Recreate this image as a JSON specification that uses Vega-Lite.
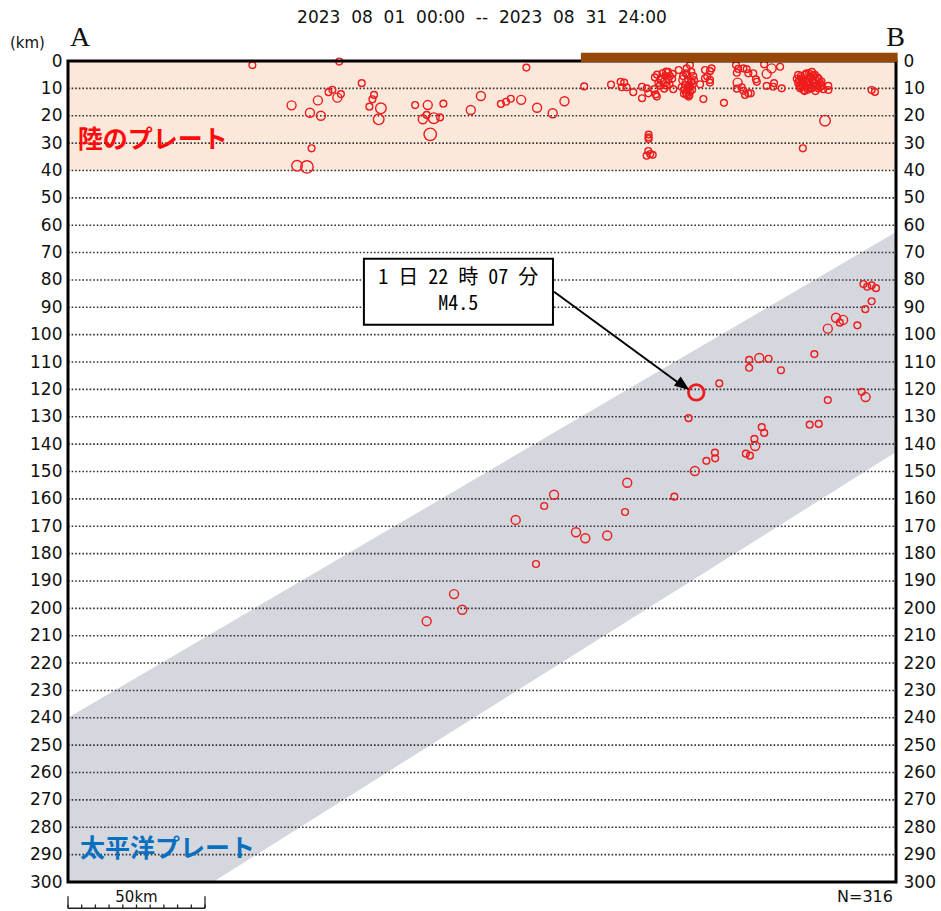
{
  "$schema": "https://vega.github.io/schema/vega-lite/v6.json",
  "width": 828,
  "height": 821,
  "autosize": {"type": "none"},
  "padding": {"left": 68, "top": 61, "right": 45, "bottom": 29},
  "background": "white",
  "config": {"view": {"stroke": null}, "font": "DejaVu Sans"},
  "datasets": {
    "slab": [
      {"km": 0, "top": 240, "bottom": 300},
      {"km": 52.9, "top": 208.9, "bottom": 300},
      {"km": 302.2, "top": 62.5, "bottom": 142.9}
    ],
    "grid": [
      {"d": 10}, {"d": 20}, {"d": 30}, {"d": 40}, {"d": 50}, {"d": 60}, {"d": 70}, {"d": 80}, {"d": 90}, {"d": 100},
      {"d": 110}, {"d": 120}, {"d": 130}, {"d": 140}, {"d": 150}, {"d": 160}, {"d": 170}, {"d": 180}, {"d": 190}, {"d": 200},
      {"d": 210}, {"d": 220}, {"d": 230}, {"d": 240}, {"d": 250}, {"d": 260}, {"d": 270}, {"d": 280}, {"d": 290}
    ],
    "scaleticks": [
      {"t": 0}, {"t": 5}, {"t": 10}, {"t": 15}, {"t": 20}, {"t": 25}, {"t": 30}, {"t": 35}, {"t": 40}, {"t": 45}, {"t": 50}
    ],
    "quakes": [
      {"dist": 67.3, "depth": 1.5, "mag": 1}, {"dist": 99.0, "depth": 0.2, "mag": 1}, {"dist": 81.6, "depth": 16.2, "mag": 1.5},
      {"dist": 88.3, "depth": 18.9, "mag": 1.5}, {"dist": 91.2, "depth": 14.4, "mag": 1.5}, {"dist": 92.3, "depth": 20.0, "mag": 1.5},
      {"dist": 95.1, "depth": 11.4, "mag": 1}, {"dist": 96.5, "depth": 10.5, "mag": 1}, {"dist": 98.3, "depth": 13.4, "mag": 1.5},
      {"dist": 99.6, "depth": 12.1, "mag": 1}, {"dist": 107.2, "depth": 8.1, "mag": 1}, {"dist": 110.0, "depth": 16.7, "mag": 1},
      {"dist": 111.1, "depth": 14.0, "mag": 1}, {"dist": 111.7, "depth": 12.4, "mag": 1}, {"dist": 114.2, "depth": 17.3, "mag": 2},
      {"dist": 113.4, "depth": 21.3, "mag": 2}, {"dist": 88.9, "depth": 31.9, "mag": 1}, {"dist": 83.6, "depth": 38.3, "mag": 2},
      {"dist": 87.2, "depth": 38.7, "mag": 2.5}, {"dist": 126.7, "depth": 16.1, "mag": 1}, {"dist": 130.9, "depth": 19.7, "mag": 1},
      {"dist": 129.5, "depth": 21.3, "mag": 1.5}, {"dist": 133.5, "depth": 20.9, "mag": 2}, {"dist": 135.8, "depth": 20.6, "mag": 1},
      {"dist": 131.3, "depth": 16.1, "mag": 1.5}, {"dist": 137.0, "depth": 15.6, "mag": 1}, {"dist": 132.2, "depth": 26.8, "mag": 2.5},
      {"dist": 147.0, "depth": 17.9, "mag": 1.5}, {"dist": 150.7, "depth": 12.8, "mag": 1.5}, {"dist": 158.0, "depth": 15.7, "mag": 1},
      {"dist": 159.9, "depth": 14.9, "mag": 1}, {"dist": 161.6, "depth": 13.8, "mag": 1}, {"dist": 165.4, "depth": 14.2, "mag": 1.5},
      {"dist": 167.3, "depth": 2.4, "mag": 1}, {"dist": 171.2, "depth": 17.1, "mag": 1.5}, {"dist": 176.9, "depth": 19.1, "mag": 1.5},
      {"dist": 181.2, "depth": 14.7, "mag": 1.5}, {"dist": 188.4, "depth": 9.3, "mag": 1}, {"dist": 198.2, "depth": 8.6, "mag": 1},
      {"dist": 201.7, "depth": 7.6, "mag": 1}, {"dist": 203.0, "depth": 7.9, "mag": 1}, {"dist": 203.9, "depth": 9.6, "mag": 1},
      {"dist": 202.1, "depth": 9.6, "mag": 1}, {"dist": 206.3, "depth": 11.4, "mag": 1}, {"dist": 209.5, "depth": 9.4, "mag": 1},
      {"dist": 209.5, "depth": 13.6, "mag": 1}, {"dist": 211.2, "depth": 10.0, "mag": 1}, {"dist": 211.8, "depth": 11.8, "mag": 1},
      {"dist": 214.0, "depth": 10.3, "mag": 1}, {"dist": 214.5, "depth": 12.2, "mag": 1}, {"dist": 214.9, "depth": 13.0, "mag": 1},
      {"dist": 211.9, "depth": 26.9, "mag": 1}, {"dist": 211.9, "depth": 27.9, "mag": 1}, {"dist": 211.9, "depth": 28.5, "mag": 1},
      {"dist": 211.8, "depth": 32.9, "mag": 1}, {"dist": 212.5, "depth": 34.0, "mag": 1}, {"dist": 213.4, "depth": 34.3, "mag": 1},
      {"dist": 211.2, "depth": 34.6, "mag": 1},
      {"dist": 214.2, "depth": 6.0, "mag": 1}, {"dist": 216.3, "depth": 6.5, "mag": 1}, {"dist": 217.9, "depth": 7.6, "mag": 1.5},
      {"dist": 219.1, "depth": 6.9, "mag": 1}, {"dist": 219.7, "depth": 5.5, "mag": 1}, {"dist": 218.3, "depth": 3.9, "mag": 1},
      {"dist": 216.7, "depth": 6.9, "mag": 1.5}, {"dist": 217.6, "depth": 10.1, "mag": 1}, {"dist": 220.9, "depth": 10.3, "mag": 1},
      {"dist": 220.7, "depth": 4.7, "mag": 1}, {"dist": 222.9, "depth": 3.3, "mag": 1}, {"dist": 225.8, "depth": 2.7, "mag": 1},
      {"dist": 227.0, "depth": 1.5, "mag": 1}, {"dist": 224.6, "depth": 6.9, "mag": 1.5}, {"dist": 225.8, "depth": 8.1, "mag": 1.5},
      {"dist": 226.4, "depth": 10.0, "mag": 1}, {"dist": 227.0, "depth": 11.2, "mag": 1}, {"dist": 225.6, "depth": 11.8, "mag": 1},
      {"dist": 227.6, "depth": 7.6, "mag": 1}, {"dist": 228.2, "depth": 5.5, "mag": 1}, {"dist": 225.2, "depth": 8.8, "mag": 1},
      {"dist": 226.3, "depth": 6.6, "mag": 1}, {"dist": 226.6, "depth": 9.1, "mag": 1}, {"dist": 225.9, "depth": 12.4, "mag": 1},
      {"dist": 226.0, "depth": 5.0, "mag": 1}, {"dist": 227.0, "depth": 9.5, "mag": 1}, {"dist": 226.5, "depth": 13.0, "mag": 1},
      {"dist": 225.0, "depth": 10.5, "mag": 1}, {"dist": 228.0, "depth": 8.5, "mag": 1}, {"dist": 218.0, "depth": 5.5, "mag": 1},
      {"dist": 215.5, "depth": 8.0, "mag": 1}, {"dist": 219.5, "depth": 8.5, "mag": 1},
      {"dist": 224.5, "depth": 5.5, "mag": 1}, {"dist": 225.5, "depth": 4.5, "mag": 1}, {"dist": 227.5, "depth": 4.0, "mag": 1},
      {"dist": 226.8, "depth": 12.5, "mag": 1}, {"dist": 224.8, "depth": 12.0, "mag": 1}, {"dist": 227.8, "depth": 10.5, "mag": 1},
      {"dist": 228.5, "depth": 7.0, "mag": 1}, {"dist": 224.0, "depth": 9.5, "mag": 1}, {"dist": 215.0, "depth": 5.0, "mag": 1},
      {"dist": 217.0, "depth": 4.5, "mag": 1}, {"dist": 219.0, "depth": 4.0, "mag": 1}, {"dist": 220.5, "depth": 6.5, "mag": 1},
      {"dist": 216.0, "depth": 9.0, "mag": 1}, {"dist": 218.5, "depth": 9.0, "mag": 1},
      {"dist": 230.7, "depth": 8.5, "mag": 1}, {"dist": 231.9, "depth": 13.9, "mag": 1}, {"dist": 232.5, "depth": 3.3, "mag": 1},
      {"dist": 234.3, "depth": 3.7, "mag": 1}, {"dist": 234.9, "depth": 2.7, "mag": 1}, {"dist": 233.3, "depth": 5.7, "mag": 1},
      {"dist": 232.5, "depth": 6.3, "mag": 1}, {"dist": 234.3, "depth": 7.9, "mag": 1}, {"dist": 234.3, "depth": 6.9, "mag": 1},
      {"dist": 239.4, "depth": 15.3, "mag": 1}, {"dist": 243.8, "depth": 1.5, "mag": 1}, {"dist": 244.6, "depth": 2.9, "mag": 1},
      {"dist": 244.1, "depth": 4.3, "mag": 1}, {"dist": 246.5, "depth": 2.7, "mag": 1}, {"dist": 247.7, "depth": 3.0, "mag": 1},
      {"dist": 248.3, "depth": 4.5, "mag": 1}, {"dist": 250.1, "depth": 4.5, "mag": 1}, {"dist": 251.1, "depth": 6.7, "mag": 1},
      {"dist": 251.4, "depth": 7.6, "mag": 1}, {"dist": 255.0, "depth": 4.7, "mag": 1.5}, {"dist": 254.1, "depth": 1.2, "mag": 1},
      {"dist": 256.8, "depth": 2.7, "mag": 1.5}, {"dist": 259.9, "depth": 2.1, "mag": 1}, {"dist": 244.4, "depth": 7.9, "mag": 1.5},
      {"dist": 244.1, "depth": 10.1, "mag": 1}, {"dist": 245.9, "depth": 9.6, "mag": 1}, {"dist": 246.5, "depth": 10.9, "mag": 1},
      {"dist": 247.1, "depth": 12.4, "mag": 1}, {"dist": 248.3, "depth": 11.8, "mag": 1}, {"dist": 249.2, "depth": 11.8, "mag": 1},
      {"dist": 255.0, "depth": 9.1, "mag": 1}, {"dist": 257.7, "depth": 8.1, "mag": 1}, {"dist": 257.4, "depth": 9.4, "mag": 1},
      {"dist": 260.5, "depth": 10.0, "mag": 1}, {"dist": 268.2, "depth": 31.9, "mag": 1},
      {"dist": 266.5, "depth": 5.1, "mag": 1}, {"dist": 267.8, "depth": 6.3, "mag": 1}, {"dist": 269.6, "depth": 4.5, "mag": 1},
      {"dist": 270.8, "depth": 5.7, "mag": 1}, {"dist": 272.0, "depth": 6.9, "mag": 1}, {"dist": 268.4, "depth": 8.1, "mag": 1},
      {"dist": 270.2, "depth": 8.8, "mag": 1}, {"dist": 267.2, "depth": 10.0, "mag": 1}, {"dist": 273.3, "depth": 8.8, "mag": 1},
      {"dist": 271.4, "depth": 10.0, "mag": 1}, {"dist": 269.0, "depth": 6.9, "mag": 1}, {"dist": 274.5, "depth": 8.1, "mag": 1},
      {"dist": 272.6, "depth": 5.1, "mag": 1}, {"dist": 266.5, "depth": 8.1, "mag": 1}, {"dist": 273.8, "depth": 10.0, "mag": 1},
      {"dist": 268.6, "depth": 10.6, "mag": 1}, {"dist": 271.5, "depth": 4.0, "mag": 1}, {"dist": 268.0, "depth": 7.0, "mag": 1},
      {"dist": 270.0, "depth": 7.5, "mag": 1}, {"dist": 272.0, "depth": 8.0, "mag": 1}, {"dist": 269.5, "depth": 9.5, "mag": 1},
      {"dist": 271.0, "depth": 6.0, "mag": 1}, {"dist": 273.0, "depth": 7.0, "mag": 1}, {"dist": 267.0, "depth": 9.0, "mag": 1},
      {"dist": 270.0, "depth": 10.5, "mag": 1}, {"dist": 274.0, "depth": 6.5, "mag": 1}, {"dist": 266.0, "depth": 6.5, "mag": 1},
      {"dist": 267.5, "depth": 5.5, "mag": 1}, {"dist": 269.0, "depth": 5.0, "mag": 1}, {"dist": 270.5, "depth": 4.5, "mag": 1},
      {"dist": 272.0, "depth": 5.5, "mag": 1}, {"dist": 273.5, "depth": 6.0, "mag": 1}, {"dist": 268.0, "depth": 8.8, "mag": 1},
      {"dist": 269.5, "depth": 8.0, "mag": 1}, {"dist": 271.0, "depth": 8.5, "mag": 1}, {"dist": 272.5, "depth": 9.5, "mag": 1},
      {"dist": 274.5, "depth": 9.5, "mag": 1}, {"dist": 267.5, "depth": 9.5, "mag": 1}, {"dist": 266.8, "depth": 7.2, "mag": 1},
      {"dist": 275.0, "depth": 7.5, "mag": 1}, {"dist": 270.5, "depth": 9.8, "mag": 1}, {"dist": 268.8, "depth": 11.0, "mag": 1},
      {"dist": 272.8, "depth": 11.0, "mag": 1},
      {"dist": 275.1, "depth": 9.1, "mag": 1}, {"dist": 275.7, "depth": 10.3, "mag": 1}, {"dist": 277.5, "depth": 9.1, "mag": 1},
      {"dist": 277.5, "depth": 10.6, "mag": 1}, {"dist": 276.3, "depth": 21.8, "mag": 2}, {"dist": 293.3, "depth": 10.6, "mag": 1},
      {"dist": 294.5, "depth": 11.3, "mag": 1},
      {"dist": 272.4, "depth": 107.1, "mag": 1}, {"dist": 248.6, "depth": 109.2, "mag": 1}, {"dist": 248.6, "depth": 112.1, "mag": 1},
      {"dist": 252.3, "depth": 108.5, "mag": 1.5}, {"dist": 255.7, "depth": 108.8, "mag": 1}, {"dist": 260.2, "depth": 113.0, "mag": 1},
      {"dist": 237.7, "depth": 117.8, "mag": 1}, {"dist": 226.5, "depth": 130.5, "mag": 1}, {"dist": 277.3, "depth": 123.9, "mag": 1},
      {"dist": 289.7, "depth": 120.9, "mag": 1}, {"dist": 291.1, "depth": 122.8, "mag": 1.5}, {"dist": 270.7, "depth": 132.9, "mag": 1},
      {"dist": 274.0, "depth": 132.6, "mag": 1}, {"dist": 253.2, "depth": 133.8, "mag": 1}, {"dist": 254.1, "depth": 135.9, "mag": 1},
      {"dist": 250.5, "depth": 138.1, "mag": 1}, {"dist": 250.8, "depth": 140.7, "mag": 1.5}, {"dist": 247.4, "depth": 143.5, "mag": 1},
      {"dist": 248.9, "depth": 144.2, "mag": 1}, {"dist": 236.1, "depth": 143.1, "mag": 1}, {"dist": 236.2, "depth": 145.2, "mag": 1},
      {"dist": 233.0, "depth": 146.1, "mag": 1}, {"dist": 228.8, "depth": 149.8, "mag": 1.5}, {"dist": 221.3, "depth": 159.2, "mag": 1},
      {"dist": 204.1, "depth": 154.1, "mag": 1.5}, {"dist": 203.3, "depth": 164.8, "mag": 1}, {"dist": 177.4, "depth": 158.5, "mag": 1.5},
      {"dist": 173.8, "depth": 162.6, "mag": 1}, {"dist": 163.4, "depth": 167.7, "mag": 1.5}, {"dist": 185.4, "depth": 172.2, "mag": 1.5},
      {"dist": 188.8, "depth": 174.4, "mag": 1.5}, {"dist": 196.8, "depth": 173.4, "mag": 1.5}, {"dist": 170.8, "depth": 183.8, "mag": 1},
      {"dist": 130.9, "depth": 204.7, "mag": 1.5}, {"dist": 140.9, "depth": 194.8, "mag": 1.5}, {"dist": 143.9, "depth": 200.5, "mag": 1.5},
      {"dist": 290.3, "depth": 81.5, "mag": 1}, {"dist": 291.7, "depth": 82.5, "mag": 1}, {"dist": 293.3, "depth": 82.0, "mag": 1},
      {"dist": 294.9, "depth": 83.0, "mag": 1}, {"dist": 293.3, "depth": 87.8, "mag": 1}, {"dist": 291.0, "depth": 90.7, "mag": 1},
      {"dist": 280.3, "depth": 93.8, "mag": 1.5}, {"dist": 281.7, "depth": 95.6, "mag": 1}, {"dist": 282.9, "depth": 94.6, "mag": 1.5},
      {"dist": 288.1, "depth": 96.6, "mag": 1}, {"dist": 277.3, "depth": 97.8, "mag": 1.5},
      {"dist": 229.3, "depth": 121.1, "mag": 4.5}
    ]
  },
  "layer": [
    {
      "data": {"values": [{}]},
      "mark": {"type": "rect", "color": "#FCE8DA"},
      "encoding": {
        "x": {"datum": 0, "type": "quantitative", "scale": {"domain": [0, 302.2], "nice": false, "zero": false}, "axis": null},
        "x2": {"datum": 302.2},
        "y": {"datum": 0, "type": "quantitative", "scale": {"domain": [0, 300], "reverse": true, "nice": false, "zero": false}, "axis": null},
        "y2": {"datum": 40}
      }
    },
    {
      "data": {"name": "slab"},
      "mark": {"type": "area", "color": "#D4D7DE", "orient": "vertical"},
      "encoding": {
        "x": {"field": "km", "type": "quantitative", "axis": null},
        "y": {"field": "top", "type": "quantitative", "axis": null},
        "y2": {"field": "bottom"}
      }
    },
    {
      "data": {"name": "grid"},
      "mark": {"type": "rule", "color": "#333333", "strokeWidth": 1.6, "strokeDash": [1.6, 2]},
      "encoding": {
        "x": {"datum": 0, "type": "quantitative", "axis": null},
        "x2": {"datum": 302.2},
        "y": {"field": "d", "type": "quantitative", "axis": {"orient": "right", "title": null, "values": [0,10,20,30,40,50,60,70,80,90,100,110,120,130,140,150,160,170,180,190,200,210,220,230,240,250,260,270,280,290,300], "domain": false, "ticks": false, "tickSize": 0, "grid": false, "labelPadding": 7, "labelFontSize": 17, "labelColor": "#111", "labelFont": "DejaVu Sans"}}
      }
    },
    {
      "data": {"name": "quakes"},
      "mark": {"type": "point", "filled": false, "color": "#EE1C1C", "opacity": 1},
      "encoding": {
        "x": {"field": "dist", "type": "quantitative", "axis": null},
        "y": {"field": "depth", "type": "quantitative", "axis": {"orient": "left", "title": null, "values": [0,10,20,30,40,50,60,70,80,90,100,110,120,130,140,150,160,170,180,190,200,210,220,230,240,250,260,270,280,290,300], "domain": false, "ticks": false, "tickSize": 0, "grid": false, "labelPadding": 6, "labelFontSize": 17, "labelColor": "#111", "labelFont": "DejaVu Sans"}},
        "size": {"field": "mag", "type": "quantitative", "legend": null, "scale": {"type": "linear", "domain": [1, 1.5, 2, 2.5, 4.5], "range": [46, 81, 112, 154, 243]}},
        "strokeWidth": {"condition": {"test": "datum.mag >= 4", "value": 2.8}, "value": 1.4}
      }
    },
    {
      "data": {"values": [{}]},
      "mark": {"type": "rect", "fill": "white", "stroke": "black", "strokeWidth": 2},
      "encoding": {
        "x": {"datum": 108.0, "type": "quantitative", "axis": null},
        "x2": {"datum": 177.0},
        "y": {"datum": 72.3, "type": "quantitative", "axis": null},
        "y2": {"datum": 96.4}
      }
    },
    {
      "data": {"values": [{}]},
      "mark": {"type": "text", "text": "1 日 22 時 07 分", "font": "'Noto Sans Mono CJK JP', 'Noto Sans CJK JP', sans-serif", "fontSize": 20, "color": "#000", "align": "center", "baseline": "middle"},
      "encoding": {
        "x": {"datum": 142.4, "type": "quantitative", "axis": null},
        "y": {"datum": 79.3, "type": "quantitative", "axis": null}
      }
    },
    {
      "data": {"values": [{}]},
      "mark": {"type": "text", "text": "M4.5", "font": "'Noto Sans Mono CJK JP', 'Noto Sans CJK JP', sans-serif", "fontSize": 20, "color": "#000", "align": "center", "baseline": "middle"},
      "encoding": {
        "x": {"datum": 142.4, "type": "quantitative", "axis": null},
        "y": {"datum": 88.9, "type": "quantitative", "axis": null}
      }
    },
    {
      "data": {"values": [{}]},
      "mark": {"type": "rule", "color": "black", "strokeWidth": 2},
      "encoding": {
        "x": {"datum": 177.4, "type": "quantitative", "axis": null},
        "x2": {"datum": 224.0},
        "y": {"datum": 84.3, "type": "quantitative", "axis": null},
        "y2": {"datum": 118.5}
      }
    },
    {
      "data": {"values": [{}]},
      "mark": {"type": "point", "shape": "M0,0 L-1,-0.38 L-1,0.38 Z", "filled": true, "color": "black", "opacity": 1, "size": 900, "angle": 36},
      "encoding": {
        "x": {"datum": 226.8, "type": "quantitative", "axis": null},
        "y": {"datum": 120.2, "type": "quantitative", "axis": null}
      }
    },
    {
      "data": {"values": [{}]},
      "mark": {"type": "text", "text": "陸のプレート", "font": "Noto Sans CJK JP", "fontWeight": "bold", "fontSize": 25, "color": "#FF0A0A", "align": "left", "baseline": "middle"},
      "encoding": {
        "x": {"datum": 3.6, "type": "quantitative", "axis": null},
        "y": {"datum": 28.9, "type": "quantitative", "axis": null}
      }
    },
    {
      "data": {"values": [{}]},
      "mark": {"type": "text", "text": "太平洋プレート", "font": "Noto Sans CJK JP", "fontWeight": "bold", "fontSize": 25, "color": "#0B6FC0", "align": "left", "baseline": "middle"},
      "encoding": {
        "x": {"datum": 4.4, "type": "quantitative", "axis": null},
        "y": {"datum": 288.0, "type": "quantitative", "axis": null}
      }
    },
    {
      "data": {"values": [{}]},
      "mark": {"type": "rect", "filled": false, "stroke": "black", "strokeWidth": 3},
      "encoding": {
        "x": {"datum": 0, "type": "quantitative", "axis": null},
        "x2": {"datum": 302.2},
        "y": {"datum": 0, "type": "quantitative", "axis": null},
        "y2": {"datum": 300}
      }
    },
    {
      "data": {"values": [{}]},
      "mark": {"type": "rect", "color": "#984806"},
      "encoding": {
        "x": {"datum": 187.2, "type": "quantitative", "axis": null},
        "x2": {"datum": 302.8},
        "y": {"datum": -3.0, "type": "quantitative", "axis": null},
        "y2": {"datum": 0.4}
      }
    },
    {
      "data": {"values": [{}]},
      "mark": {"type": "text", "text": "2023\u00a0 08\u00a0 01\u00a0 00:00\u00a0 --\u00a0 2023\u00a0 08\u00a0 31\u00a0 24:00", "font": "DejaVu Sans", "fontSize": 17, "color": "#111", "align": "center", "baseline": "middle"},
      "encoding": {
        "x": {"datum": 151.1, "type": "quantitative", "axis": null},
        "y": {"datum": -15.7, "type": "quantitative", "axis": null}
      }
    },
    {
      "data": {"values": [{}]},
      "mark": {"type": "text", "text": "(km)", "font": "DejaVu Sans", "fontSize": 15, "color": "#111", "align": "left", "baseline": "middle"},
      "encoding": {
        "x": {"datum": -21.2, "type": "quantitative", "axis": null},
        "y": {"datum": -6.6, "type": "quantitative", "axis": null}
      }
    },
    {
      "data": {"values": [{}]},
      "mark": {"type": "text", "text": "A", "font": "Liberation Serif", "fontSize": 28, "color": "#111", "align": "left", "baseline": "middle"},
      "encoding": {
        "x": {"datum": 0.7, "type": "quantitative", "axis": null},
        "y": {"datum": -8.4, "type": "quantitative", "axis": null}
      }
    },
    {
      "data": {"values": [{}]},
      "mark": {"type": "text", "text": "B", "font": "Liberation Serif", "fontSize": 28, "color": "#111", "align": "right", "baseline": "middle"},
      "encoding": {
        "x": {"datum": 305.5, "type": "quantitative", "axis": null},
        "y": {"datum": -8.4, "type": "quantitative", "axis": null}
      }
    },
    {
      "data": {"values": [{}]},
      "mark": {"type": "text", "text": "N=316", "font": "DejaVu Sans", "fontSize": 16, "color": "#111", "align": "right", "baseline": "middle"},
      "encoding": {
        "x": {"datum": 301.1, "type": "quantitative", "axis": null},
        "y": {"datum": 305.5, "type": "quantitative", "axis": null}
      }
    },
    {
      "data": {"values": [{}]},
      "mark": {"type": "text", "text": "50km", "font": "DejaVu Sans", "fontSize": 15, "color": "#111", "align": "center", "baseline": "middle"},
      "encoding": {
        "x": {"datum": 25.0, "type": "quantitative", "axis": null},
        "y": {"datum": 305.4, "type": "quantitative", "axis": null}
      }
    },
    {
      "data": {"values": [{}]},
      "mark": {"type": "rule", "color": "#222", "strokeWidth": 1.3},
      "encoding": {
        "x": {"datum": 0, "type": "quantitative", "axis": null},
        "x2": {"datum": 50},
        "y": {"datum": 309.6, "type": "quantitative", "axis": null}
      }
    },
    {
      "data": {"name": "scaleticks"},
      "mark": {"type": "rule", "color": "#222", "strokeWidth": 1.3},
      "encoding": {
        "x": {"field": "t", "type": "quantitative", "axis": null},
        "y": {"datum": 308.2, "type": "quantitative", "axis": null},
        "y2": {"datum": 309.6}
      }
    },
    {
      "data": {"name": "scaleticks"},
      "transform": [{"filter": "datum.t == 0 || datum.t == 50"}],
      "mark": {"type": "rule", "color": "#222", "strokeWidth": 1.3},
      "encoding": {
        "x": {"field": "t", "type": "quantitative", "axis": null},
        "y": {"datum": 305.2, "type": "quantitative", "axis": null},
        "y2": {"datum": 309.6}
      }
    }
  ]
}
